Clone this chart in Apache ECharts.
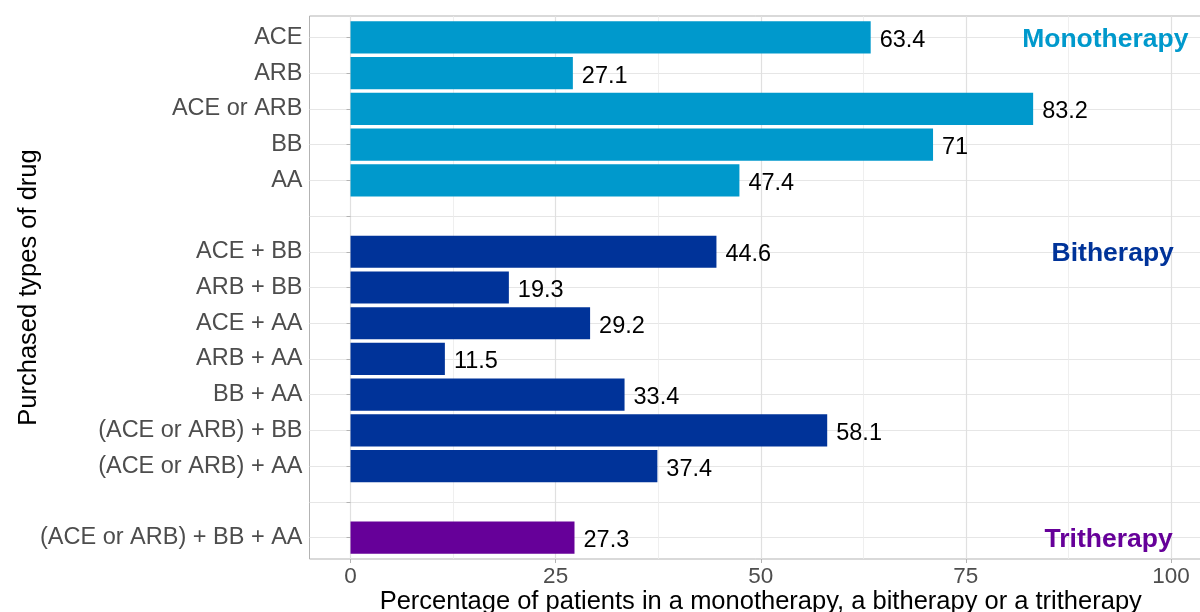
<!DOCTYPE html>
<html>
<head>
<meta charset="utf-8">
<script src="https://cdn.jsdelivr.net/npm/echarts@6/dist/echarts.min.js"></script>
<style>
  html, body { margin: 0; padding: 0; background: #fff; }
  #chart { width: 1200px; height: 612px; }
</style>
</head>
<body>
<div id="chart"></div>
<script>
// Drug combination rows, top to bottom; empty strings are spacer rows between groups
const categories = [
  'ACE', 'ARB', 'ACE or ARB', 'BB', 'AA',
  '',
  'ACE + BB', 'ARB + BB', 'ACE + AA', 'ARB + AA', 'BB + AA',
  '(ACE or ARB) + BB', '(ACE or ARB) + AA',
  '',
  '(ACE or ARB) + BB + AA'
];

// Percentage of patients per row
const monoValues = [63.4, 27.1, 83.2, 71, 47.4];
const biValues = [44.6, 19.3, 29.2, 11.5, 33.4, 58.1, 37.4];
const triValues = [27.3];

// Row positions (1-based) for each group
const monoRows = [1, 2, 3, 4, 5];
const biRows = [7, 8, 9, 10, 11, 12, 13];
const triRows = [15];

const xTicks = [0, 25, 50, 75, 100];
const xMinor = [12.5, 37.5, 62.5, 87.5];

// Group captions, drawn at the right edge of each group's first row
const groupNames = ['Monotherapy', 'Bitherapy', 'Tritherapy'];
const groupColors = ['#0099CC', '#003399', '#660099'];
const groupLabelRows = [1, 7, 15];
const groupLabelX = [92, 92.9, 92.4];

const FONT = "'Liberation Sans', Arial, Helvetica, sans-serif";
const rowTicks = categories.map((_, i) => i + 1);

function barSeries(name, rows, values, color) {
  return {
    name: name,
    type: 'custom',
    xAxisIndex: 0,
    yAxisIndex: 0,
    data: rows.map((r, i) => [values[i], r]),
    encode: { x: 0, y: 1 },
    renderItem: function (params, api) {
      const v = api.value(0);
      const row = api.value(1);
      const start = api.coord([0, row]);
      const end = api.coord([v, row]);
      const h = api.size([0, 0.9])[1];
      return {
        type: 'group',
        children: [
          {
            type: 'rect',
            shape: { x: start[0], y: start[1] - h / 2, width: end[0] - start[0], height: h },
            style: { fill: color }
          },
          {
            type: 'text',
            x: end[0] + 9,
            y: end[1] + 3,
            style: {
              text: String(v),
              fill: '#000',
              font: '23.5px ' + FONT,
              verticalAlign: 'middle',
              align: 'left'
            }
          }
        ]
      };
    },
    z: 3
  };
}

const chart = echarts.init(document.getElementById('chart'), null, { renderer: 'canvas' });

const option = {
  animation: false,
  backgroundColor: '#fff',
  grid: {
    left: 309.5,
    right: -12,
    top: 16,
    bottom: 53,
    outerBoundsMode: 'none',
    containLabel: false,
    show: true,
    borderColor: '#b3b3b3',
    borderWidth: 1,
    backgroundColor: 'transparent'
  },
  xAxis: [
    {
      type: 'value',
      min: -5,
      max: 105,
      name: 'Percentage of patients in a monotherapy, a bitherapy or a tritherapy',
      nameLocation: 'middle',
      nameMoveOverlap: false,
      nameGap: 30,
      nameTextStyle: { fontFamily: FONT, fontSize: 25.5, color: '#000', verticalAlign: 'top' },
      axisLine: { show: false },
      axisTick: { show: true, customValues: xTicks, length: 4, lineStyle: { color: '#b3b3b3' } },
      axisLabel: {
        customValues: xTicks,
        fontFamily: FONT, fontSize: 22.5, color: '#4d4d4d', margin: 6
      },
      splitLine: { show: true, lineStyle: { color: '#e0e0e0', width: 1.2 } }
    },
    {
      type: 'value',
      min: -5,
      max: 105,
      position: 'bottom',
      axisLine: { show: false },
      axisTick: { show: true, customValues: xMinor, length: 0, lineStyle: { color: 'transparent' } },
      axisLabel: { show: false, customValues: xMinor },
      splitLine: { show: true, lineStyle: { color: '#ebebeb', width: 0.8 } }
    }
  ],
  yAxis: {
    type: 'value',
    inverse: true,
    min: 0.4,
    max: 15.6,
    name: 'Purchased types of drug',
    nameLocation: 'middle',
    nameMoveOverlap: false,
    nameRotate: 90,
    nameGap: 268,
    nameTextStyle: { fontFamily: FONT, fontSize: 25.5, color: '#000' },
    axisLine: { show: false },
    axisTick: { show: true, customValues: rowTicks, length: 4, lineStyle: { color: '#b3b3b3' } },
    axisLabel: {
      customValues: rowTicks,
      formatter: function (v) { return categories[Math.round(v) - 1] || ''; },
      fontFamily: FONT, fontSize: 23.5, color: '#4d4d4d', margin: 7
    },
    splitLine: { show: true, lineStyle: { color: '#e6e6e6', width: 1.2 } }
  },
  series: [
    barSeries('Monotherapy', monoRows, monoValues, groupColors[0]),
    barSeries('Bitherapy', biRows, biValues, groupColors[1]),
    barSeries('Tritherapy', triRows, triValues, groupColors[2]),
    {
      type: 'custom',
      data: groupNames.map((n, i) => [groupLabelX[i], groupLabelRows[i], i]),
      encode: { x: 0, y: 1 },
      renderItem: function (params, api) {
        const p = api.coord([api.value(0), api.value(1)]);
        const idx = api.value(2);
        return {
          type: 'text',
          x: p[0],
          y: p[1] + 2,
          style: {
            text: groupNames[idx],
            fill: groupColors[idx],
            font: 'bold 26.5px ' + FONT,
            align: 'center',
            verticalAlign: 'middle'
          }
        };
      },
      z: 4
    }
  ]
};

chart.setOption(option);
</script>
</body>
</html>
